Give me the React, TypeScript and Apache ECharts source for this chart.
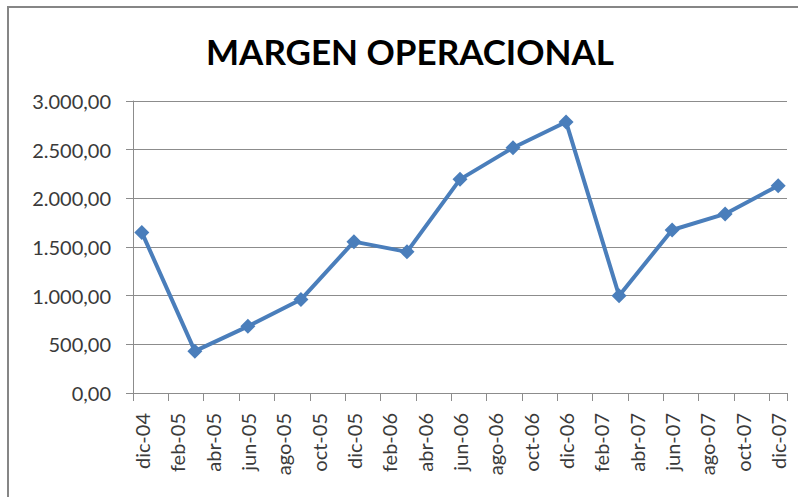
import React, { useEffect, useRef } from "react";
import * as echarts from "echarts";

const months = [
  "dic-04", "ene-05", "feb-05", "mar-05", "abr-05", "may-05", "jun-05", "jul-05", "ago-05", "sep-05", "oct-05", "nov-05",
  "dic-05", "ene-06", "feb-06", "mar-06", "abr-06", "may-06", "jun-06", "jul-06", "ago-06", "sep-06", "oct-06", "nov-06",
  "dic-06", "ene-07", "feb-07", "mar-07", "abr-07", "may-07", "jun-07", "jul-07", "ago-07", "sep-07", "oct-07", "nov-07",
  "dic-07",
];

const pointMonths = [
  "dic-04", "mar-05", "jun-05", "sep-05", "dic-05", "mar-06", "jun-06",
  "sep-06", "dic-06", "mar-07", "jun-07", "sep-07", "dic-07",
];

const margen = [1650, 430, 685, 960, 1555, 1450, 2195, 2520, 2785, 1000, 1675, 1840, 2130];

const yTicks = [0, 500, 1000, 1500, 2000, 2500, 3000];

function fmt(v: number): string {
  const [i, d] = v.toFixed(2).split(".");
  return i.replace(/\B(?=(\d{3})+(?!\d))/g, ".") + "," + d;
}

export default function App() {
  const ref = useRef<HTMLDivElement>(null);
  useEffect(() => {
    document.body.style.margin = "0";
    const chart = echarts.init(ref.current!, null, { renderer: "svg" });
    const font = "Lato, 'Open Sans', sans-serif";
    chart.setOption({
      animation: false,
      backgroundColor: "#ffffff",
      graphic: [
        {
          type: "rect",
          shape: { x: 8, y: 7, width: 820, height: 520 },
          style: { fill: "none", stroke: "#868686", lineWidth: 2 },
          silent: true,
        },
        {
          type: "text",
          x: 410,
          y: 51,
          style: {
            text: "MARGEN OPERACIONAL",
            font: `bold 35px ${font}`,
            fill: "#000000",
            textAlign: "center",
            textVerticalAlign: "middle",
          },
        },
      ],
      grid: { left: 133, right: 11, top: 101, bottom: 104, containLabel: false },
      xAxis: {
        type: "category",
        data: months,
        boundaryGap: true,
        axisLine: { lineStyle: { color: "#8c8c8c", width: 1 } },
        axisTick: { show: true, interval: 1, length: 8, lineStyle: { color: "#8c8c8c" } },
        axisLabel: {
          interval: 1,
          rotate: 90,
          margin: 20,
          color: "#3a3a3a",
          fontFamily: font,
          fontSize: 20,
        },
        splitLine: { show: false },
      },
      yAxis: {
        type: "value",
        min: yTicks[0],
        max: yTicks[yTicks.length - 1],
        interval: 500,
        axisLine: { show: true, lineStyle: { color: "#8c8c8c", width: 1 } },
        axisTick: { show: true, length: 7, lineStyle: { color: "#8c8c8c" } },
        axisLabel: {
          margin: 22,
          color: "#3a3a3a",
          fontFamily: font,
          fontSize: 20,
          formatter: (v: number) => fmt(v),
        },
        splitLine: { show: true, lineStyle: { color: "#8c8c8c", width: 1 } },
      },
      series: [
        {
          type: "line",
          data: pointMonths.map((m, i) => [m, margen[i]]),
          symbol: "diamond",
          symbolSize: 15,
          showSymbol: true,
          showAllSymbol: true,
          lineStyle: { color: "#4a7ebb", width: 4 },
          itemStyle: { color: "#4a7ebb" },
        },
      ],
    });
    return () => chart.dispose();
  }, []);
  return <div ref={ref} style={{ width: 798, height: 497 }} />;
}
